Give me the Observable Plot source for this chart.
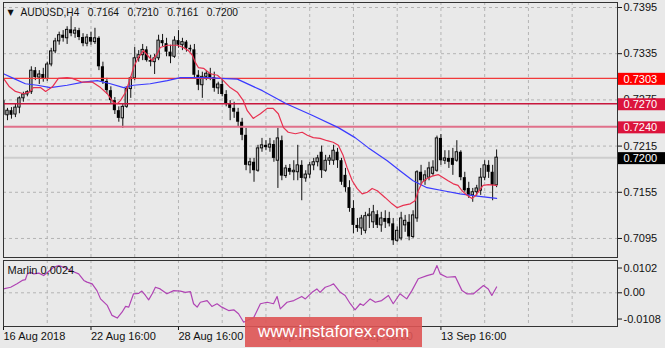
<!DOCTYPE html>
<html><head><meta charset="utf-8">
<script src="https://cdn.jsdelivr.net/npm/d3@7"></script>
<script src="https://cdn.jsdelivr.net/npm/@observablehq/plot@0.6"></script>
<style>
html,body{margin:0;padding:0;background:#e9e9e9;}
#wrap{position:relative;width:665px;height:348px;overflow:hidden;background:#e9e9e9;}
#wrap svg{display:block;}
#wm{position:absolute;left:245px;top:317px;width:177px;height:30px;background:rgba(222,84,84,0.9);color:#fff;font:17px "Liberation Sans",Arial,sans-serif;line-height:30px;text-align:center;}
</style></head><body><div id="wrap"><div id="wm">www.instaforex.com</div></div>
<script>
// ---- data ----
const open = [
.7274,.7255,.7261,.7256,.7265,.7277,.7282,.7285,.7313,.7304,
.7308,.7302,.7321,.7338,.7351,.7359,.7355,.7366,.7361,.7365,
.7356,.7348,.7356,.7350,.7355,.7318,.7299,.7287,.7274,.7261,
.7251,.7266,.7289,.7303,.7329,.7333,.7340,.7326,.7324,.7329,
.7352,.7348,.7337,.7331,.7352,.7346,.7350,.7342,.7340,.7307,
.7294,.7305,.7309,.7304,.7290,.7295,.7282,.7269,.7264,.7259,
.7246,.7229,.7190,.7194,.7183,.7212,.7216,.7213,.7217,.7196,
.7222,.7176,.7186,.7181,.7181,.7190,.7173,.7178,.7190,.7194,
.7207,.7183,.7196,.7196,.7207,.7196,.7177,.7161,.7134,.7112,
.7108,.7105,.7124,.7116,.7126,.7112,.7121,.7121,.7114,.7092,
.7095,.7112,.7116,.7097,.7121,.7181,.7170,.7174,.7179,.7183,
.7225,.7196,.7199,.7199,.7196,.7207,.7174,.7160,.7151,.7155,
.7157,.7174,.7190,.7181,.7164];
const high = [
.7281,.7264,.7265,.7270,.7279,.7285,.7287,.7318,.7317,.7313,
.7316,.7324,.7342,.7355,.7363,.7365,.7370,.7383,.7369,.7368,
.7361,.7360,.7363,.7368,.7357,.7324,.7303,.7292,.7278,.7266,
.7269,.7292,.7305,.7343,.7339,.7347,.7344,.7333,.7334,.7359,
.7360,.7355,.7346,.7357,.7365,.7355,.7352,.7346,.7347,.7313,
.7311,.7313,.7316,.7311,.7298,.7303,.7287,.7274,.7272,.7264,
.7251,.7238,.7199,.7199,.7216,.7225,.7222,.7225,.7222,.7238,
.7228,.7190,.7191,.7196,.7216,.7196,.7183,.7194,.7199,.7203,
.7215,.7203,.7203,.7216,.7212,.7199,.7186,.7170,.7144,.7121,
.7125,.7129,.7134,.7138,.7131,.7129,.7131,.7129,.7121,.7110,
.7129,.7125,.7126,.7131,.7183,.7190,.7183,.7194,.7196,.7228,
.7230,.7209,.7209,.7212,.7222,.7209,.7181,.7168,.7160,.7164,
.7186,.7196,.7196,.7190,.7210];
const low = [
.7251,.7248,.7250,.7252,.7257,.7272,.7279,.7282,.7300,.7295,
.7298,.7299,.7318,.7335,.7346,.7350,.7347,.7357,.7355,.7352,
.7344,.7344,.7346,.7347,.7313,.7295,.7282,.7269,.7256,.7246,
.7238,.7264,.7277,.7300,.7324,.7326,.7324,.7318,.7308,.7326,
.7344,.7331,.7322,.7329,.7342,.7339,.7337,.7337,.7303,.7287,
.7277,.7300,.7300,.7285,.7282,.7279,.7266,.7248,.7251,.7240,
.7222,.7183,.7179,.7168,.7181,.7207,.7209,.7207,.7194,.7160,
.7170,.7173,.7177,.7170,.7170,.7144,.7168,.7173,.7183,.7188,
.7173,.7181,.7190,.7190,.7186,.7164,.7155,.7129,.7101,.7103,
.7099,.7101,.7108,.7108,.7108,.7103,.7108,.7110,.7086,.7090,
.7092,.7103,.7092,.7095,.7116,.7164,.7164,.7170,.7176,.7181,
.7190,.7191,.7186,.7177,.7194,.7170,.7155,.7147,.7142,.7150,
.7151,.7170,.7173,.7144,.7161];
const close = [
.7255,.7261,.7255,.7265,.7277,.7282,.7285,.7313,.7304,.7308,
.7302,.7321,.7338,.7351,.7359,.7355,.7366,.7361,.7365,.7356,
.7348,.7356,.7350,.7355,.7318,.7299,.7287,.7274,.7261,.7251,
.7266,.7289,.7303,.7329,.7333,.7340,.7326,.7324,.7329,.7352,
.7348,.7337,.7331,.7352,.7346,.7350,.7342,.7340,.7307,.7294,
.7305,.7309,.7304,.7290,.7295,.7282,.7269,.7264,.7259,.7246,
.7229,.7190,.7194,.7183,.7212,.7216,.7213,.7217,.7199,.7225,
.7176,.7186,.7181,.7183,.7190,.7173,.7178,.7190,.7194,.7199,
.7183,.7196,.7199,.7209,.7196,.7168,.7161,.7134,.7112,.7108,
.7121,.7124,.7126,.7129,.7112,.7121,.7116,.7114,.7092,.7105,
.7121,.7118,.7097,.7125,.7181,.7170,.7177,.7186,.7187,.7225,
.7196,.7199,.7194,.7190,.7207,.7174,.7157,.7151,.7155,.7160,
.7174,.7190,.7181,.7164,.7200];

// fast MA (red) and slow MA (blue): bar position, price
const redX = [0,1.5,3,5,6.5,7.5,9.3,10.6,12.3,13.8,16,17.3,19.8,22.4,24.4,26.1,27.6,28.6,29.4,30.7,31.9,32.7,33.9,35.2,36.2,37.4,38.7,39.4,41.2,43.7,45.2,46.5,47.5,48.2,49,50.3,52,53.8,55.3,57,58.8,60.3,61.3,62.8,64.6,66.3,67.8,69.1,70.4,71.6,73.4,75.1,76.4,77.9,79.6,81.4,82.9,84.2,85.4,86.4,87.7,88.9,90.2,91.5,92.7,94,96,97.7,99,100.5,102.3,103.5,104.3,105.3,106.5,107.8,109.3,110.6,111.8,113.1,114.3,115.3,116.6,117.8,118.6,119.3,120.6,121.9,124];
const redY = [.7303,.7292,.7286,.7283,.7285,.7291,.7291,.7286,.7292,.7303,.7304,.7303,.7298,.7298,.7291,.7283,.7272,.7270,.7274,.7285,.7303,.7317,.7330,.7339,.7333,.7326,.7335,.7343,.7346,.7346,.7343,.7339,.7333,.7324,.7317,.7316,.7309,.7307,.7300,.7291,.7285,.7274,.7261,.7251,.7257,.7264,.7264,.7257,.7239,.7233,.7231,.7233,.7229,.7226,.7225,.7222,.7220,.7216,.7203,.7187,.7170,.7160,.7153,.7155,.7160,.7157,.7148,.7140,.7135,.7138,.7140,.7144,.7157,.7168,.7173,.7176,.7178,.7174,.7170,.7166,.7164,.7157,.7151,.7147,.7150,.7155,.7164,.7165,.7164];
const blueX = [0,2.5,5.5,8.5,11.8,16,20.1,23.6,26.9,30.2,32.7,36.9,41.2,44.5,47.7,51.3,54.5,58.8,65.1,71.1,77.6,84.2,88.4,91.7,96.5,99.7,103,106.5,110.6,114.8,119.1,124];
const blueY = [.7309,.7303,.7296,.7294,.7291,.7294,.7298,.7300,.7296,.7291,.7294,.7296,.7300,.7304,.7304,.7304,.7303,.7302,.7287,.7270,.7255,.7239,.7226,.7213,.7196,.7183,.7170,.7161,.7157,.7153,.7150,.7147];

// Marlin oscillator: bar position, value
const marlinX = [0,1.8,3.4,4.7,5.5,6,6.8,7.6,8.9,10.1,11.4,12.6,13.9,15.2,16,17.3,18.9,20.2,21,22.3,23.5,24.4,26.1,27.3,28.6,29.8,30.7,31.5,32.7,34,34.8,35.7,36.5,37.4,38.2,39.4,41.1,42.8,44.5,45.7,47,47.8,48.7,49.5,51.2,52.4,53.7,54.9,56.6,57.9,59.1,60.4,61.2,62.9,64.6,66.3,67.9,68.8,69.6,71.3,73,75,75.9,77.6,78.8,79.6,80.9,82.2,83,84.7,85.9,87.2,88.4,89.7,90.5,92.2,93.5,95.1,96.8,98,99.7,101.4,102.7,104.3,106.5,108.1,109,109.8,111.5,113.6,115.3,116.5,118.2,120.7,121.9,122.8,124];
const marlinY = [.0016,.0023,.0037,.0051,.0054,.0078,.0085,.0078,.0081,.0071,.0089,.0105,.0112,.0105,.0099,.0089,.0078,.0051,.0044,.0037,.0009,-.0025,-.0052,-.0093,-.0104,-.0080,-.0056,-.0059,-.0004,-.0002,.0007,-.0011,-.0029,-.0004,.0023,.0016,-.0004,.0009,.0007,.0002,.0005,-.0045,-.0059,-.0039,-.0032,-.0056,-.0045,-.0059,-.0073,-.0070,-.0086,-.0121,-.0114,-.0103,-.0045,-.0039,-.0045,-.0015,-.0066,-.0039,-.0032,-.0015,-.0025,.0002,.0016,.0002,.0023,.0030,.0037,.0002,-.0011,-.0045,-.0070,-.0045,-.0052,-.0025,-.0039,-.0032,-.0011,-.0045,-.0004,-.0025,.0009,.0058,.0071,.0078,.0112,.0078,.0064,.0067,.0009,-.0004,-.0004,.0030,.0016,-.0011,.0024];

const priceTicks = [0.7395, 0.7335, 0.7275, 0.7215, 0.7155, 0.7095];
const levelVals = [0.7303, 0.7270, 0.7240];
const levelLine = ["#f23a3a", "#c8173d", "#e0708a"];
const levelWidth = [1.3, 1.3, 2];
const lastPrice = 0.7200;
const labelVals = [0.7303, 0.7270, 0.7240, 0.7200];
const labelBox = ["#ff0000", "#dc143c", "#dc143c", "#000000"];
const marlinTicks = [0.0102, 0, -0.0108];
const marlinTickLabels = ["0.0102", "0.00", "-0.0108"];
const timeTicks = [0, 22, 44, 66, 88, 110];
const timeLabels = ["16 Aug 2018", "22 Aug 16:00", "28 Aug 16:00", "3 Sep 16:00", "7 Sep 16:00", "13 Sep 16:00"];
const gridIdx = [11, 22, 33, 44, 55, 66, 77, 88, 99, 110, 121, 132, 143];
const titleText = "AUDUSD,H4\u00a0\u00a0 0.7164\u00a0\u00a0 0.7210\u00a0\u00a0 0.7161\u00a0\u00a0 0.7200";
const marlinTitle = "Marlin 0,0024";

// ---- build ----
const FONT = '"Liberation Sans", Arial, sans-serif';
const xDomain = [0, 154.4];
const candles = open.map((o, i) => ({i, o, h: high[i], l: low[i], c: close[i]}));
const bull = candles.filter(d => d.c >= d.o);
const bear = candles.filter(d => d.c < d.o);
const redPts = redX.map((x, k) => ({x, y: redY[k]}));
const bluePts = blueX.map((x, k) => ({x, y: blueY[k]}));
const marlinPts = marlinX.map((x, k) => ({x, y: marlinY[k]}));
const timeMap = new Map(timeTicks.map((t, k) => [t, timeLabels[k]]));
const mTickMap = new Map(marlinTicks.map((t, k) => [t, marlinTickLabels[k]]));
const gridStyle = {stroke: "#b4b4b4", strokeOpacity: 1, strokeDasharray: "3,3"};

const main = Plot.plot({
  width: 665, height: 258,
  marginTop: 2, marginBottom: 1, marginLeft: 3, marginRight: 48,
  style: {background: "transparent", fontFamily: FONT, fontSize: "11px", color: "#000", overflow: "visible"},
  x: {type: "linear", domain: xDomain, axis: null},
  y: {type: "linear", domain: [0.70703, 0.74015], axis: null},
  marks: [
    Plot.gridY(priceTicks, gridStyle),
    Plot.gridX(gridIdx, gridStyle),
    Plot.ruleY([lastPrice], {stroke: "#cdcdcd", strokeWidth: 2}),
    Plot.ruleX(candles, {x: "i", y1: "l", y2: "h", stroke: "#111", strokeWidth: 1, clip: true}),
    Plot.rect(bear, {x1: d => d.i - 0.38, x2: d => d.i + 0.38, y1: "o", y2: "c", fill: "#000", inset: 0, clip: true}),
    Plot.rect(bull, {x1: d => d.i - 0.3, x2: d => d.i + 0.3, y1: "o", y2: "c", fill: "#b8b8b8", stroke: "#000", strokeWidth: 0.9, inset: 0, clip: true}),
    ...levelVals.map((v, k) => Plot.ruleY([v], {stroke: levelLine[k], strokeWidth: levelWidth[k]})),
    Plot.line(bluePts, {x: "x", y: "y", stroke: "#3a3aff", strokeWidth: 1.2, clip: true}),
    Plot.line(redPts, {x: "x", y: "y", stroke: "#e8304f", strokeWidth: 1.2, clip: true}),
    Plot.axisY(priceTicks, {anchor: "right", label: null, tickSize: 4, tickPadding: 2, tickFormat: d => d.toFixed(4), fontSize: 11, fill: "#111", stroke: "#111"}),
    Plot.text(labelVals, {y: d => d, text: d => d.toFixed(4), frameAnchor: "right", dx: 6, dy: 1, textAnchor: "start", lineAnchor: "middle", fill: "#fff", fontSize: 11, ariaDescription: "lvl"}),
    Plot.text(["\u25BC"], {frameAnchor: "top-left", dx: 4, dy: 10, textAnchor: "start", lineAnchor: "middle", fontSize: 8, fill: "#111", fontFamily: "DejaVu Sans"}),
    Plot.text([titleText], {frameAnchor: "top-left", dx: 17, dy: 10, textAnchor: "start", lineAnchor: "middle", fontSize: 10.2, fill: "#111"}),
    Plot.frame({stroke: "#333"})
  ]
});

const lower = Plot.plot({
  width: 665, height: 90,
  marginTop: 2, marginBottom: 22, marginLeft: 3, marginRight: 48,
  style: {background: "transparent", fontFamily: FONT, fontSize: "11px", color: "#000", overflow: "visible"},
  x: {type: "linear", domain: xDomain, axis: null},
  y: {type: "linear", domain: [-0.01387, 0.0133], axis: null},
  marks: [
    Plot.gridX(gridIdx, gridStyle),
    Plot.ruleY([0], gridStyle),
    Plot.line(marlinPts, {x: "x", y: "y", stroke: "#b044b4", strokeWidth: 1.2, clip: true}),
    Plot.axisY(marlinTicks, {anchor: "right", label: null, tickSize: 4, tickPadding: 2, tickFormat: d => mTickMap.get(d), fontSize: 11, fill: "#111", stroke: "#111"}),
    Plot.axisX(timeTicks, {anchor: "bottom", label: null, tickSize: 4, tickPadding: 2, textAnchor: "start", tickFormat: d => timeMap.get(d), fontSize: 11, fill: "#111", stroke: "#111"}),
    Plot.text([marlinTitle], {frameAnchor: "top-left", dx: 4, dy: 10, textAnchor: "start", lineAnchor: "middle", fontSize: 11, fill: "#111"}),
    Plot.frame({stroke: "#333"})
  ]
});

const wrap = document.getElementById("wrap");
wrap.insertBefore(lower, wrap.firstChild);
wrap.insertBefore(main, wrap.firstChild);

// coloured boxes behind the level labels, placed with the plot's own y scale
const ns = "http://www.w3.org/2000/svg";
const ys = main.scale("y");
const yPix = d3.scaleLinear(ys.domain, ys.range);
const frameRight = 665 - 48;
const boxes = d3.select(main).append("g").attr("class", "lvl-boxes");
labelVals.forEach((v, k) => {
  boxes.append("rect")
    .attr("x", frameRight + 1)
    .attr("y", yPix(v) - 5)
    .attr("width", 665 - frameRight - 1)
    .attr("height", 12)
    .attr("fill", labelBox[k]);
});
// bring the label texts above the boxes
let lg = main.querySelector('g[aria-description="lvl"]');
if (!lg) {
  main.querySelectorAll("g").forEach(g => {
    const t = g.querySelector("text");
    if (t && g.getAttribute("fill") === "#fff") lg = g;
  });
}
if (lg) main.appendChild(lg);
</script></body></html>
